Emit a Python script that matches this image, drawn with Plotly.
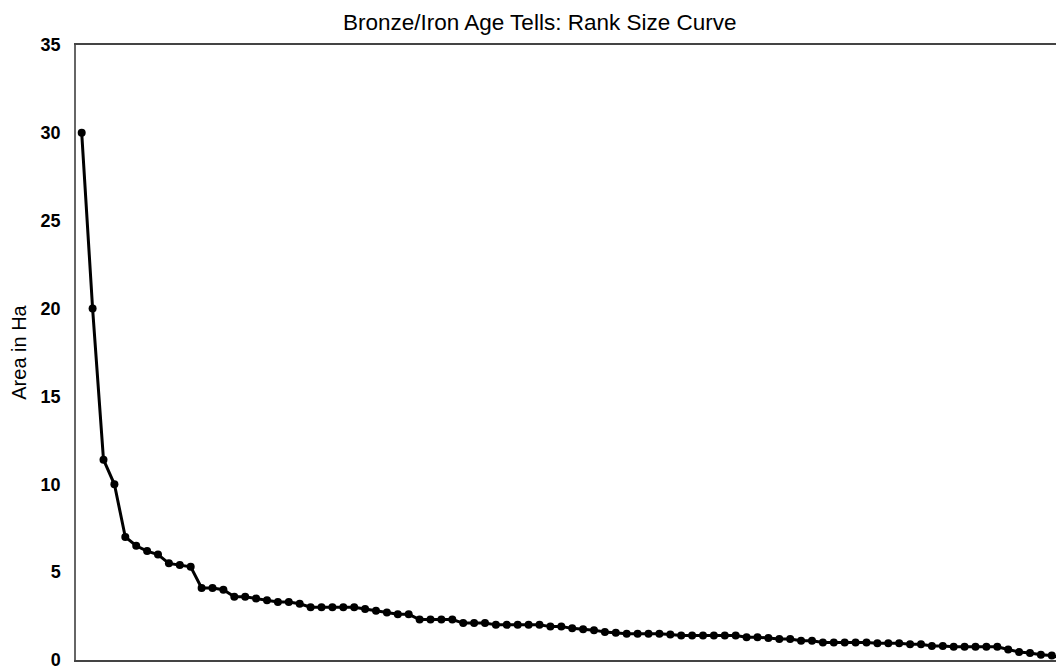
import plotly.graph_objects as go

title_text = "Bronze/Iron Age Tells: Rank Size Curve"
y_title = "Area in Ha"
y_ticks = [0, 5, 10, 15, 20, 25, 30, 35]

area_ha = (
    [30, 20, 11.4, 10, 7, 6.5, 6.2, 6, 5.5, 5.4, 5.3, 4.1, 4.1, 4, 3.6, 3.6, 3.5, 3.4, 3.3, 3.3, 3.2]
    + [3] * 5
    + [2.9, 2.8, 2.7, 2.6, 2.6]
    + [2.3] * 4
    + [2.1] * 3
    + [2.0] * 5
    + [1.9] * 2
    + [1.8, 1.75, 1.7, 1.6, 1.55]
    + [1.5] * 4
    + [1.45]
    + [1.4] * 6
    + [1.3] * 2
    + [1.25]
    + [1.2] * 2
    + [1.1] * 2
    + [1.0] * 5
    + [0.95] * 3
    + [0.9] * 2
    + [0.8] * 2
    + [0.75] * 5
    + [0.6, 0.45, 0.4, 0.3, 0.25, 0.1]
)
rank = list(range(1, len(area_ha) + 1))

FONT = "Liberation Sans, Arial, sans-serif"

fig = go.Figure()
fig.add_trace(go.Scatter(
    x=rank, y=area_ha, mode="lines+markers",
    line=dict(color="black", width=3),
    marker=dict(color="black", size=8),
    showlegend=False,
))

fig.update_layout(
    width=1056, height=669,
    margin=dict(l=68, r=0, t=37, b=17),
    paper_bgcolor="white", plot_bgcolor="white",
    font=dict(family=FONT, color="black"),
    title=dict(text=title_text, x=0.5035, xref="container", xanchor="center",
               y=1 - 14 / 669, yref="container", yanchor="middle",
               font=dict(size=22.5, color="black", family=FONT)),
    xaxis=dict(range=[0.477, 91.12], showgrid=False, zeroline=False,
               showticklabels=False, ticks="", showline=True,
               linecolor="#444444", linewidth=1.5, mirror=True),
    yaxis=dict(range=[0, 35], tickvals=y_ticks, showgrid=False, zeroline=False,
               showline=True, linecolor="#666666", linewidth=1.5, ticks="",
               ticklabelstandoff=10,
               tickfont=dict(size=18, color="black", family=FONT, weight="bold"),
               title=dict(text=y_title, font=dict(size=20, color="black", family=FONT), standoff=10)),
)

fig.write_html("out.html")
